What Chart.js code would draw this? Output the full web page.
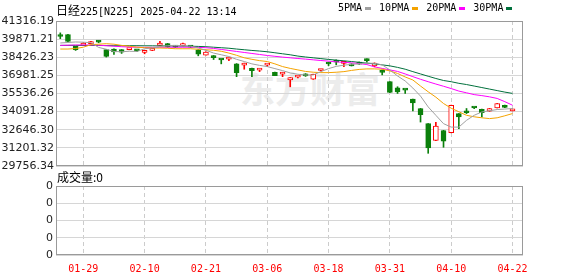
<!DOCTYPE html>
<html>
<head>
<meta charset="utf-8">
<script src="https://cdn.jsdelivr.net/npm/chart.js@4.4.1/dist/chart.umd.min.js"></script>
<style>
  body { margin: 0; background: #fff; }
  #wrap { position: relative; width: 578px; height: 276px; overflow: hidden; }
  #wm { position: absolute; left: 240px; top: 68px; font: bold 35px "Noto Sans CJK SC"; color: #ececec; line-height: 40px; white-space: nowrap; }
  #title { position: absolute; left: 56px; top: 1px; font: 10px "DejaVu Sans Mono"; line-height: 14px; color: #000; white-space: pre; }
  #title .cjk { font: 12px "Noto Sans CJK SC"; }
  #legend { position: absolute; left: 338px; top: 1px; font: 10px "DejaVu Sans Mono"; line-height: 14px; color: #000; white-space: nowrap; }
  #legend i { display: inline-block; width: 6px; height: 3px; margin: 0 8px 0 3px; vertical-align: middle; }
  #volTitle { position: absolute; left: 57px; top: 170px; font: 12px "Noto Sans CJK SC"; line-height: 14px; color: #000; }
  .box { position: absolute; left: 0; width: 578px; }
</style>
</head>
<body>
<div id="wrap">
  <div id="wm">东方财富</div>
  <div class="box" style="top:0;height:175px"><canvas id="kline"></canvas></div>
  <div class="box" style="top:168px;height:108px"><canvas id="vol"></canvas></div>
  <div id="title"><span class="cjk">日经</span>225[N225] 2025-04-22 13:14</div>
  <div id="legend"></div>
  <div id="volTitle">成交量:0</div>
</div>
<script>
// trading days on screen
const dates = ['01-24','01-27','01-28','01-29','01-30','01-31','02-03','02-04','02-05','02-06','02-07','02-10','02-12','02-13','02-14','02-17','02-18','02-19','02-20','02-21','02-25','02-26','02-27','02-28','03-03','03-04','03-05','03-06','03-07','03-10','03-11','03-12','03-13','03-14','03-17','03-18','03-19','03-21','03-24','03-25','03-26','03-27','03-28','03-31','04-01','04-02','04-03','04-04','04-07','04-08','04-09','04-10','04-11','04-14','04-15','04-16','04-17','04-18','04-21','04-22'];

const open  = [40110,40230,39290,39370,39510,39660,39030,39080,39030,39040,38960,38820,38980,39370,39510,39250,39350,39260,39025,38600,38420,38230,38280,37900,37800,37550,37400,37800,37230,37080,36610,36840,37095,36670,37370,37910,38050,37940,37900,38035,38175,37740,37250,36480,35995,35820,35085,34340,33130,31790,32590,32410,33935,34030,34400,34280,34120,34385,34600,34145];
const high  = [40370,40260,39300,39580,39700,39740,39040,39090,39040,39110,39000,38970,39050,39690,39530,39280,39560,39300,39030,38850,38565,38235,38410,37920,37960,37560,37520,37835,37240,37230,36810,36950,37120,37080,37450,38040,38220,37970,37910,38050,38300,37980,37420,36490,36075,35825,35090,34350,33140,33235,32600,34610,33940,34340,34420,34290,34350,34745,34610,34290];
const low   = [39910,39640,38970,39350,39480,39580,38440,38650,38730,39020,38880,38700,38950,39360,39220,39200,39320,39200,38540,38590,38245,37900,38160,36880,37470,36880,37280,37680,36950,36880,36070,36780,36900,36660,37330,37760,37820,37680,37730,37860,38035,37660,37020,35600,35540,35540,34145,33260,30770,31780,31250,32400,32725,33935,34330,33660,34110,34380,34410,34140];
const close = [40080,39690,39025,39560,39650,39630,38490,38860,38840,39080,38930,38850,39010,39560,39240,39230,39380,39230,38680,38840,38400,38210,38310,37200,37830,37360,37430,37830,36960,37110,36800,36870,36935,37070,37400,37890,38030,37960,37740,37875,38155,37955,37220,35625,35670,35800,34790,33855,31200,32940,31735,34600,33660,34005,34380,34015,34340,34735,34420,34280];

const ma5  = [39563,39604,39644,39628,39588,39210,39065,38888,38864,38904,38888,39105,39162,39266,39347,39363,39347,39306,39162,38985,38760,38623,38486,38261,38084,37899,37779,37682,37521,37361,37176,37071,37015,37015,37280,37521,37698,37795,37859,37899,37956,37940,37819,37417,36935,36533,35970,35327,34466,33799,33132,32858,32858,33397,33799,34064,34161,34257,34298,34338];
const ma10 = [39081,39081,39122,39226,39427,39467,39507,39467,39371,39306,39226,39186,39162,39162,39146,39105,39105,39105,39065,39025,38985,38904,38760,38583,38382,38261,38157,38084,37899,37682,37538,37417,37296,37232,37200,37200,37232,37280,37377,37457,37497,37497,37473,37337,37136,36854,36613,36131,35672,35246,34740,34362,34080,33799,33678,33598,33534,33598,33759,33936];
const ma20 = [39371,39387,39403,39403,39403,39387,39347,39306,39266,39242,39226,39210,39210,39226,39226,39226,39226,39226,39210,39186,39130,39049,38969,38888,38808,38728,38647,38567,38502,38438,38382,38326,38277,38221,38165,38117,38060,38020,37980,37924,37843,37658,37538,37417,37296,37095,36878,36669,36476,36291,36114,35930,35729,35592,35447,35367,35270,35142,34884,34603];
const ma30 = [39371,39371,39371,39363,39363,39363,39355,39347,39347,39347,39347,39339,39339,39331,39331,39323,39315,39306,39290,39266,39226,39186,39146,39081,39025,38969,38921,38864,38784,38703,38623,38519,38446,38382,38318,38253,38197,38141,38084,38020,37956,37899,37819,37739,37618,37473,37280,37095,36911,36734,36573,36476,36348,36251,36131,36010,35889,35769,35648,35544];

const volume = dates.map(() => 0);

const priceTicks = [41316.19, 39871.21, 38426.23, 36981.25, 35536.26, 34091.28, 32646.30, 31201.32, 29756.34];
const dateTicks = ['01-29','02-10','02-21','03-06','03-18','03-31','04-10','04-22'];
const volTicks = ['0','0','0','0','0'];

const maNames = ['5PMA','10PMA','20PMA','30PMA'];
const maColors = ['#a0a0a0','#f4a300','#ff00ff','#00703c'];
const UP = '#ff0000', DOWN = '#0b800b';

document.getElementById('legend').innerHTML =
  maNames.map((n, i) => n + '<i style="background:' + maColors[i] + '"></i>').join('');

const xTickIdx = dateTicks.map(d => dates.indexOf(d));
const isUp = close.map((c, i) => c >= open[i]);

function xAxis(labels) {
  return {
    type: 'linear', min: -0.56, max: 60.37, offset: false,
    afterBuildTicks: s => { s.ticks = xTickIdx.map(v => ({ value: v })); },
    afterFit: s => { s.height = labels ? 21 : 0; },
    grid: { color: '#cccccc', drawTicks: false, offset: false },
    border: { display: false, dash: [4, 3] },
    ticks: {
      display: labels, color: '#ff0000', padding: 8, maxRotation: 0, autoSkip: false,
      font: { family: 'DejaVu Sans Mono', size: 10 },
      callback: v => dates[v]
    }
  };
}

const frame = {
  id: 'frame',
  afterDatasetsDraw(chart) {
    const { ctx, chartArea: a } = chart;
    ctx.save();
    ctx.strokeStyle = '#9a9a9a';
    ctx.lineWidth = 1;
    ctx.strokeRect(Math.round(a.left) + 0.5, Math.round(a.top) + 0.5,
      Math.round(a.right - a.left) - 1, Math.round(a.bottom - a.top) - 1);
    ctx.restore();
  }
};

const lines = [ma5, ma10, ma20, ma30].map((arr, k) => ({
  type: 'line', label: maNames[k],
  data: arr.map((v, i) => ({ x: i, y: v })),
  borderColor: maColors[k], borderWidth: 1, pointRadius: 0, tension: 0, order: 0
}));

new Chart(document.getElementById('kline'), {
  type: 'bar',
  data: {
    datasets: [
      ...lines,
      {
        label: 'body',
        data: open.map((o, i) => ({ x: i, y: [o, close[i]] })),
        backgroundColor: isUp.map(u => u ? '#ffffff' : DOWN),
        borderColor: isUp.map(u => u ? UP : DOWN),
        borderWidth: 1, borderSkipped: false, barThickness: 5, minBarLength: 2,
        grouped: false, order: 1
      },
      {
        label: 'wick',
        data: low.map((l, i) => ({ x: i, y: [l, high[i]] })),
        backgroundColor: isUp.map(u => u ? UP : DOWN),
        barThickness: 1, grouped: false, order: 2
      }
    ]
  },
  options: {
    responsive: true, maintainAspectRatio: false, animation: false, devicePixelRatio: 1,
    layout: { padding: { left: 0, top: 21, right: 55, bottom: 9 } },
    plugins: { legend: { display: false }, tooltip: { enabled: false } },
    scales: {
      x: xAxis(false),
      y: {
        min: 29756.34, max: 41316.19,
        afterBuildTicks: s => { s.ticks = priceTicks.map(v => ({ value: v })); },
        afterFit: s => { s.width = 56; },
        grid: { color: '#d6d6d6', drawTicks: false },
        border: { display: false },
        ticks: { color: '#222', padding: 2, font: { family: 'DejaVu Sans', size: 11 }, callback: v => v.toFixed(2) }
      }
    }
  },
  plugins: [frame]
});

new Chart(document.getElementById('vol'), {
  type: 'bar',
  data: {
    datasets: [{
      label: 'volume',
      data: volume.map((v, i) => ({ x: i, y: v })),
      backgroundColor: DOWN, barThickness: 5
    }]
  },
  options: {
    responsive: true, maintainAspectRatio: false, animation: false, devicePixelRatio: 1,
    layout: { padding: { left: 0, top: 18, right: 55, bottom: 0 } },
    plugins: { legend: { display: false }, tooltip: { enabled: false } },
    scales: {
      x: xAxis(true),
      y: {
        min: 0, max: volTicks.length - 1,
        afterBuildTicks: s => { s.ticks = volTicks.map((t, i) => ({ value: i })); },
        afterFit: s => { s.width = 56; },
        grid: { color: '#d6d6d6', drawTicks: false },
        border: { display: false },
        ticks: { color: '#222', padding: 3, font: { family: 'DejaVu Sans', size: 11 }, callback: (v, i) => volTicks[i] }
      }
    }
  },
  plugins: [frame]
});
</script>
</body>
</html>
